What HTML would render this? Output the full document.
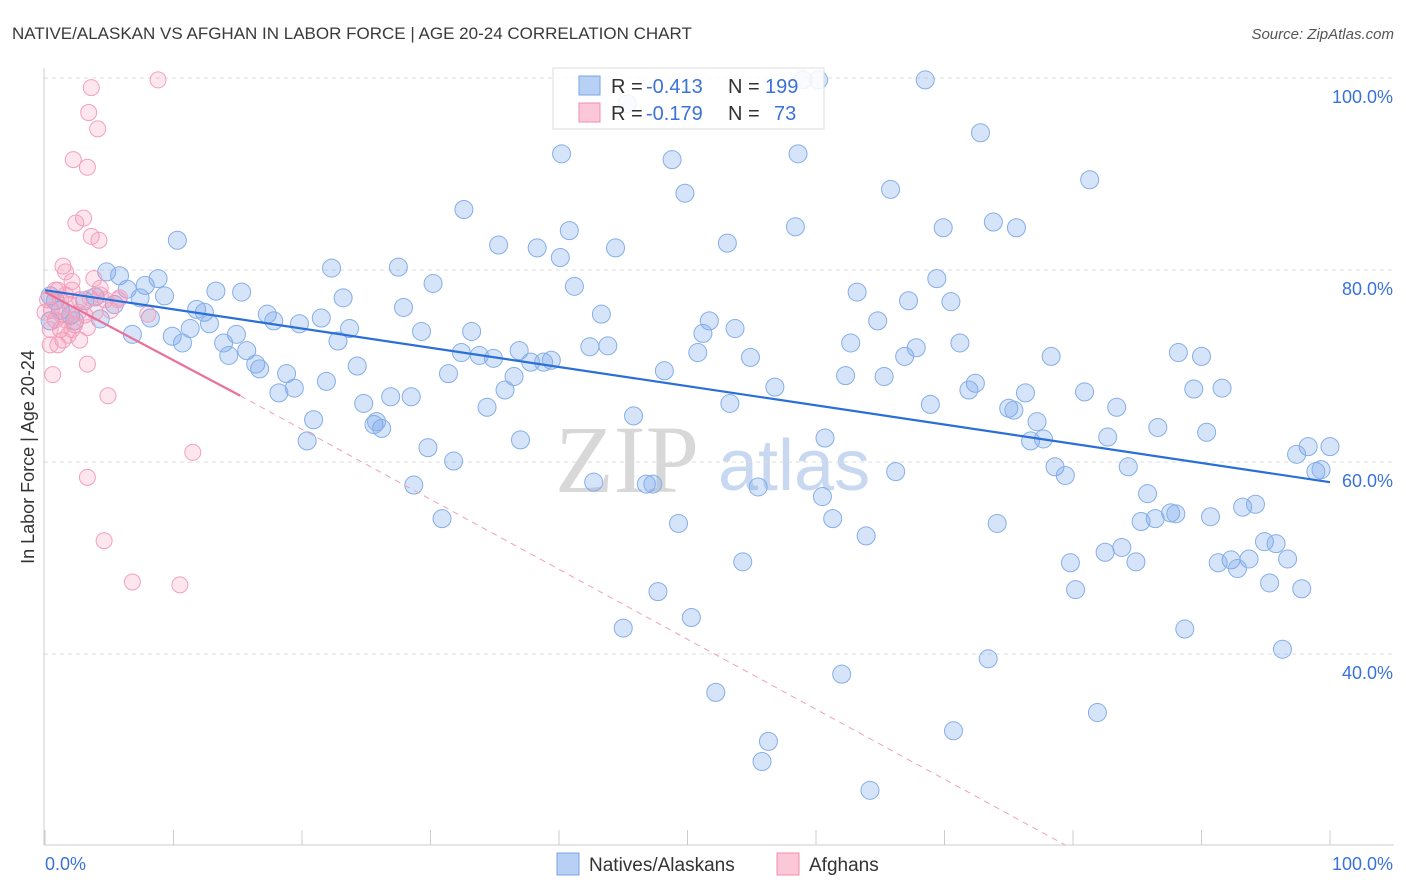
<!DOCTYPE html>
<html><head><meta charset="utf-8">
<style>
body{margin:0;background:#fff;font-family:"Liberation Sans",sans-serif;}
svg{display:block}
</style></head>
<body>
<svg id="chart" width="1406" height="892" xmlns="http://www.w3.org/2000/svg">
<text x="12" y="39" font-size="17" fill="#3a3a3a">NATIVE/ALASKAN VS AFGHAN IN LABOR FORCE | AGE 20-24 CORRELATION CHART</text>
<text x="1394" y="39" font-size="15" fill="#555" font-style="italic" text-anchor="end">Source: ZipAtlas.com</text>
<g>
<text x="555" y="492" font-size="96" font-family="Liberation Serif,serif" fill="#d8d8d8">ZIP</text>
<text x="718" y="490" font-size="72" fill="#c8d8f0">atlas</text>
</g>
<g id="grid"></g>
<g id="axes"></g>
<g id="pts"></g>
<g id="trend"></g>
<g>
<rect x="553" y="68" width="271" height="61" fill="#fff" fill-opacity="0.85" stroke="#ddd"/>
<rect x="579" y="76" width="21" height="19" fill="#b8d0f4" stroke="#7aa5e8"/>
<rect x="579" y="103" width="21" height="19" fill="#fcc8d8" stroke="#f08cb0"/>
<text x="611" y="93" font-size="20" fill="#333">R =</text>
<text x="646" y="93" font-size="20" fill="#3a72d8">-0.413</text>
<text x="728" y="93" font-size="20" fill="#333">N =</text>
<text x="765" y="93" font-size="20" fill="#3a72d8">199</text>
<text x="611" y="120" font-size="20" fill="#333">R =</text>
<text x="646" y="120" font-size="20" fill="#3a72d8">-0.179</text>
<text x="728" y="120" font-size="20" fill="#333">N =</text>
<text x="774" y="120" font-size="20" fill="#3a72d8">73</text>
</g>
<g>
<rect x="557" y="853" width="22" height="22" fill="#b8d0f4" stroke="#7aa5e8"/>
<text x="589" y="871" font-size="19" fill="#333">Natives/Alaskans</text>
<rect x="777" y="853" width="22" height="22" fill="#fcc8d8" stroke="#f08cb0"/>
<text x="809" y="871" font-size="19" fill="#333">Afghans</text>
</g>
<text transform="translate(34,457) rotate(-90)" font-size="18" fill="#333" text-anchor="middle">In Labor Force | Age 20-24</text>
</svg>
<script>
const blueX=[60.2,59,68.5,45.3,72.8,40.2,48.8,58.6,49.8,65.8,81.3,32.6,73.8,69.9,75.6,58.4,40.8,10.3,35.3,38.3,44.4,53.1,40.1,22.3,27.5,4.8,5.8,8.8,30.2,69.4,7.8,6.4,41.2,13.3,15.3,63.2,9.3,7.4,23.2,5.4,67.2,70.5,11.8,12.4,27.9,17.3,43.3,8.2,17.8,19.8,21.5,12.8,64.8,51.7,23.7,29.3,33.2,53.7,6.8,9.9,11.3,14.9,51.2,22.8,13.9,10.7,62.7,71.2,42.4,43.8,14.3,15.7,32.4,33.8,36.9,34.9,37.8,38.8,39.4,50.8,54.9,66.9,67.8,78.3,88.2,90,16.4,16.7,24.3,18.8,31.4,36.5,48.2,62.3,65.3,21.9,19.4,18.2,72.4,71.9,56.8,76.3,80.9,89.4,91.6,35.8,26.9,28.5,24.8,34.4,53.3,68.9,75,75.4,83.4,45.8,20.9,77.2,25.6,26.2,25.8,86.6,90.4,20.4,37,60.7,76.7,77.7,82.7,29.8,31.8,98.3,100,97.4,78.6,79.4,84.3,66.2,98.9,99.3,42.7,46.8,47.3,28.7,55.5,85.8,60.5,93.2,94.2,87.6,88,86.4,85.3,90.7,30.9,49.3,61.3,74.1,63.9,94.9,95.8,83.8,82.5,92.3,93.7,96.7,84.9,91.3,92.8,54.3,79.8,95.3,80.2,97.8,47.7,50.3,45,88.7,96.3,73.4,62,52.2,81.9,70.7,56.3,55.8,64.2,0.4,0.8,1.2,2,3.1,3.9,2.3,0.4,4.3];
const blueY=[99.8,99.8,99.8,97.3,94.3,92.1,91.5,92.1,88,88.4,89.4,86.3,85,84.4,84.4,84.5,84.1,83.1,82.6,82.3,82.3,82.8,81.3,80.2,80.3,79.8,79.4,79.1,78.6,79.1,78.4,78,78.3,77.8,77.7,77.7,77.3,77.1,77.1,76.4,76.8,76.7,75.9,75.6,76.1,75.4,75.4,75,74.7,74.4,75,74.4,74.7,74.7,73.9,73.6,73.6,73.9,73.3,73.1,73.9,73.3,73.4,72.6,72.4,72.4,72.4,72.4,72,72.1,71.1,71.6,71.4,71.1,71.6,70.8,70.4,70.4,70.6,71.4,70.9,71,71.9,71,71.4,71,70.2,69.7,70,69.2,69.2,68.9,69.5,69,68.9,68.4,67.7,67.2,68.2,67.5,67.8,67.2,67.3,67.6,67.7,67.5,66.8,66.8,66.1,65.7,66.1,66,65.6,65.4,65.7,64.8,64.4,64.2,63.9,63.5,64.2,63.6,63.1,62.2,62.3,62.5,62.2,62.4,62.6,61.5,60.1,61.6,61.6,60.8,59.5,58.6,59.5,59,59,59.2,57.9,57.7,57.7,57.6,57.4,56.7,56.4,55.3,55.6,54.7,54.6,54.1,53.8,54.3,54.1,53.6,54.1,53.6,52.3,51.7,51.5,51.1,50.6,49.8,49.9,49.9,49.6,49.5,48.9,49.6,49.5,47.4,46.7,46.8,46.5,43.8,42.7,42.6,40.5,39.5,37.9,36,33.9,32,30.9,28.8,25.8,77.3,76.8,75.8,75.3,76.8,77.2,74.7,74.7,74.9];
const pinkX=[8.8,3.6,3.4,4.1,2.2,3.3,3,2.4,3.6,4.2,1.4,1.6,3.8,2.1,4.3,1,5.7,8,0.6,3.3,4.9,11.5,3.3,4.6,6.8,10.5,0.2,0.5,0.8,1.2,1.6,1.9,2.3,2.7,3.1,3.5,1,1.4,1.8,2.7,3.9,4.7,5.1,0.4,0.8,1.3,2.1,2.6,0,0.4,1.6,3.3,1.2,4.3,5.8,2.1];
const pinkY=[99.8,99,96.4,94.7,91.5,90.7,85.4,84.9,83.5,83.1,80.4,79.8,79.1,78.8,78.1,77.9,76.9,75.4,69.1,70.2,66.9,61,58.4,51.8,47.5,47.2,76.9,75.8,74.8,73.8,77.4,76.4,74.3,76.9,75.3,77.1,72.2,72.7,73.2,72.7,75.6,76.9,75.8,73.8,77.9,75.3,73.8,75.6,75.6,72.2,74.8,74,76.9,77.4,77.1,77.9];
const yTicks=[100,80,60,40];
const yTickLabels=["100.0%","80.0%","60.0%","40.0%"];
const xTicks=[0,10,20,30,40,50,60,70,80,90,100];
const blueTrend=[[0,77.9],[100,57.9]];
const pinkTrendSolid=[[0,77.7],[15.2,66.9]];
const pinkTrendDash=[[15.2,66.9],[79.4,20.1]];

const NS="http://www.w3.org/2000/svg";
const sx=v=>45+v*12.85;
const sy=v=>1038-v*9.6;
function mk(tag,attrs,parent){const e=document.createElementNS(NS,tag);for(const k in attrs)e.setAttribute(k,attrs[k]);document.getElementById(parent).appendChild(e);return e;}
yTicks.forEach((t,i)=>{
  const l=mk('line',{x1:44,x2:1394,y1:sy(t),y2:sy(t),stroke:'#ddd','stroke-dasharray':'4,4'},'grid');
  
  
  const tx=mk('text',{x:1393,y:sy(t)+25,'font-size':18,fill:'#3a72d8','text-anchor':'end'},'grid');
  tx.textContent=yTickLabels[i];
  
  
});
let a=mk('line',{x1:44,x2:44,y1:68,y2:845,stroke:'#ccc'},'axes');


a=mk('line',{x1:44,x2:1394,y1:845,y2:845,stroke:'#ccc'},'axes');


xTicks.forEach(t=>{
  const l=mk('line',{x1:sx(t),x2:sx(t),y1:830,y2:845,stroke:'#ccc'},'axes');
  
  
});
let t=mk('text',{x:45,y:870,'font-size':18,fill:'#3a72d8'},'axes');t.textContent='0.0%';


t=mk('text',{x:1393,y:870,'font-size':18,fill:'#3a72d8','text-anchor':'end'},'axes');t.textContent='100.0%';


blueX.forEach((x,i)=>{
  const c=mk('circle',{cx:sx(x),cy:sy(blueY[i]),r:9,fill:'rgba(120,165,235,0.3)',stroke:'#85aee8','stroke-width':1},'pts');
  
  
});
pinkX.forEach((x,i)=>{
  const c=mk('circle',{cx:sx(x),cy:sy(pinkY[i]),r:8,fill:'rgba(245,140,175,0.22)',stroke:'#f2a0be','stroke-width':1},'pts');
  
  
});
function seg(p,stroke,w,dash,name){
  const l=mk('line',{x1:sx(p[0][0]),y1:sy(p[0][1]),x2:sx(p[1][0]),y2:sy(p[1][1]),stroke:stroke,'stroke-width':w},'trend');
  if(dash)l.setAttribute('stroke-dasharray',dash);
  
  
}
seg(blueTrend,'#2a6fd8',2.2,null,'trend-line-natives');
seg(pinkTrendSolid,'#e8709a',2.2,null,'trend-line-afghans');
seg(pinkTrendDash,'#f0a0bc',1,'6,5','trend-line-afghans-extended');
</script>
</body></html>
